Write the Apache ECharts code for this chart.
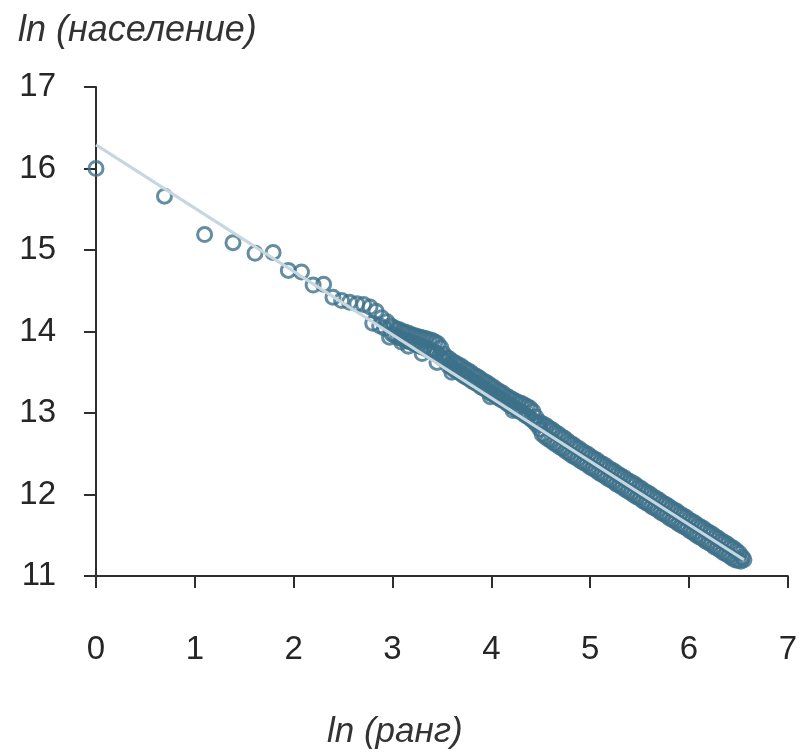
<!DOCTYPE html>
<html>
<head>
<meta charset="utf-8">
<script src="https://cdn.jsdelivr.net/npm/echarts@6/dist/echarts.min.js"></script>
<style>
html,body{margin:0;padding:0;background:#fff;}
#chart{width:800px;height:752px;}
</style>
</head>
<body>
<div id="chart"></div>
<script>
// ln(rank), ln(population) — largest cities
const topCities = [
  [0.000, 16.00], [0.693, 15.66], [1.099, 15.19], [1.386, 15.09], [1.609, 14.96],
  [1.792, 14.97], [1.946, 14.75], [2.079, 14.73], [2.197, 14.57], [2.303, 14.58],
  [2.398, 14.42], [2.485, 14.38], [2.565, 14.36], [2.639, 14.34], [2.708, 14.33],
  [2.773, 14.30], [2.833, 14.25], [2.890, 14.17], [2.944, 14.12], [2.920, 14.04],
  [2.800, 14.10], [2.870, 14.07]
];
// dense band, ln(rank) 2.98 – 3.55 (upper edge of the band)
const bandAUpper = [
  [2.98, 14.07], [3.01, 14.05], [3.04, 14.03], [3.07, 14.02], [3.10, 14.00],
  [3.13, 13.99], [3.16, 13.98], [3.19, 13.96], [3.22, 13.95], [3.25, 13.94],
  [3.28, 13.93], [3.31, 13.92], [3.34, 13.91], [3.37, 13.90], [3.40, 13.89],
  [3.43, 13.87], [3.46, 13.85], [3.49, 13.80], [3.52, 13.72]
];
// dense band, ln(rank) 2.98 – 3.55 (lower edge of the band)
const bandALower = [
  [2.995, 13.97], [3.025, 13.95], [3.055, 13.93], [3.085, 13.92], [3.115, 13.90],
  [3.145, 13.89], [3.175, 13.87], [3.205, 13.86], [3.235, 13.84], [3.265, 13.83],
  [3.295, 13.81], [3.325, 13.80], [3.355, 13.78], [3.385, 13.77], [3.415, 13.75],
  [3.445, 13.73], [3.475, 13.70], [3.505, 13.67], [3.535, 13.64],
  [2.97, 13.93], [3.09, 13.87], [3.16, 13.82], [3.30, 13.73], [3.45, 13.62]
];
// ln(rank) 3.55 – 4.5 (upper edge)
const bandBUpper = [
  [3.55, 13.68], [3.58, 13.66], [3.61, 13.63], [3.64, 13.61], [3.67, 13.59],
  [3.70, 13.57], [3.73, 13.54], [3.76, 13.52], [3.79, 13.50], [3.82, 13.47],
  [3.85, 13.45], [3.88, 13.43], [3.91, 13.40], [3.94, 13.38], [3.97, 13.36],
  [4.00, 13.33], [4.03, 13.31], [4.06, 13.28], [4.09, 13.26], [4.12, 13.24],
  [4.15, 13.21], [4.18, 13.19], [4.21, 13.17], [4.24, 13.15], [4.27, 13.13],
  [4.30, 13.12], [4.33, 13.10], [4.36, 13.08], [4.39, 13.06], [4.42, 13.02],
  [4.45, 12.95], [4.48, 12.88]
];
// ln(rank) 3.55 – 4.5 (lower edge)
const bandBLower = [
  [3.565, 13.58], [3.595, 13.56], [3.625, 13.53], [3.655, 13.51], [3.685, 13.49],
  [3.715, 13.46], [3.745, 13.44], [3.775, 13.42], [3.805, 13.39], [3.835, 13.37],
  [3.865, 13.35], [3.895, 13.32], [3.925, 13.30], [3.955, 13.28], [3.985, 13.25],
  [4.015, 13.23], [4.045, 13.21], [4.075, 13.18], [4.105, 13.16], [4.135, 13.14],
  [4.165, 13.11], [4.195, 13.09], [4.225, 13.07], [4.255, 13.04], [4.285, 13.02],
  [4.315, 13.00], [4.345, 12.97], [4.375, 12.95], [4.405, 12.92], [4.435, 12.89],
  [4.465, 12.85], [4.495, 12.80],
  [3.60, 13.50], [3.99, 13.20], [4.22, 13.03]
];
// ln(rank) 4.5 – 6.56 (upper edge)
const tailUpper = [
  [4.50, 12.88], [4.53, 12.86], [4.56, 12.84], [4.59, 12.81], [4.62, 12.79],
  [4.65, 12.76], [4.68, 12.74], [4.71, 12.71], [4.74, 12.69], [4.77, 12.66],
  [4.80, 12.63], [4.83, 12.61], [4.86, 12.58], [4.89, 12.56], [4.92, 12.53],
  [4.95, 12.51], [4.98, 12.49], [5.01, 12.46], [5.04, 12.44], [5.07, 12.42],
  [5.10, 12.39], [5.13, 12.37], [5.16, 12.35], [5.19, 12.32], [5.22, 12.30],
  [5.25, 12.28], [5.28, 12.25], [5.31, 12.23], [5.34, 12.21], [5.37, 12.18],
  [5.40, 12.16], [5.43, 12.14], [5.46, 12.12], [5.49, 12.09], [5.52, 12.07],
  [5.55, 12.04], [5.58, 12.02], [5.61, 12.00], [5.64, 11.97], [5.67, 11.95],
  [5.70, 11.93], [5.73, 11.90], [5.76, 11.88], [5.79, 11.86], [5.82, 11.83],
  [5.85, 11.81], [5.88, 11.79], [5.91, 11.76], [5.94, 11.74], [5.97, 11.72],
  [6.00, 11.69], [6.03, 11.67], [6.06, 11.65], [6.09, 11.62], [6.12, 11.60],
  [6.15, 11.58], [6.18, 11.55], [6.21, 11.53], [6.24, 11.51], [6.27, 11.48],
  [6.30, 11.46], [6.33, 11.43], [6.36, 11.41], [6.39, 11.39], [6.42, 11.36],
  [6.45, 11.34], [6.48, 11.31], [6.51, 11.28], [6.54, 11.23]
];
// ln(rank) 4.5 – 6.56 (lower edge)
const tailLower = [
  [4.515, 12.74], [4.545, 12.71], [4.575, 12.68], [4.605, 12.66], [4.635, 12.63],
  [4.665, 12.61], [4.695, 12.58], [4.725, 12.56], [4.755, 12.53], [4.785, 12.51],
  [4.815, 12.48], [4.845, 12.46], [4.875, 12.44], [4.905, 12.41], [4.935, 12.39],
  [4.965, 12.37], [4.995, 12.34], [5.025, 12.32], [5.055, 12.30], [5.085, 12.27],
  [5.115, 12.25], [5.145, 12.23], [5.175, 12.20], [5.205, 12.18], [5.235, 12.16],
  [5.265, 12.13], [5.295, 12.11], [5.325, 12.09], [5.355, 12.06], [5.385, 12.04],
  [5.415, 12.02], [5.445, 11.99], [5.475, 11.97], [5.505, 11.95], [5.535, 11.92],
  [5.565, 11.90], [5.595, 11.88], [5.625, 11.85], [5.655, 11.83], [5.685, 11.81],
  [5.715, 11.78], [5.745, 11.76], [5.775, 11.74], [5.805, 11.71], [5.835, 11.69],
  [5.865, 11.67], [5.895, 11.64], [5.925, 11.62], [5.955, 11.60], [5.985, 11.58],
  [6.015, 11.55], [6.045, 11.53], [6.075, 11.50], [6.105, 11.48], [6.135, 11.46],
  [6.165, 11.43], [6.195, 11.41], [6.225, 11.39], [6.255, 11.36], [6.285, 11.34],
  [6.315, 11.32], [6.345, 11.29], [6.375, 11.27], [6.405, 11.25], [6.435, 11.22],
  [6.465, 11.20], [6.495, 11.19], [6.525, 11.18], [6.556, 11.20]
];
// fitted regression line endpoints
const fitLine = [[0, 16.29], [6.556, 11.20]];

const xName = 'ln (ранг)';
const yName = 'ln (население)';

const allPoints = [].concat(topCities, bandAUpper, bandALower, bandBUpper, bandBLower, tailUpper, tailLower);

const chart = echarts.init(document.getElementById('chart'), null, {renderer: 'canvas'});
const font = 'Liberation Sans, Arial, Helvetica, sans-serif';
const axisColor = '#2e2e2e';
chart.setOption({
  animation: false,
  backgroundColor: '#ffffff',
  title: [
    {text: yName, left: 18, top: 13, padding: 0,
     textStyle: {fontSize: 36, fontStyle: 'italic', fontWeight: 'normal', color: '#333', fontFamily: font}},
    {text: xName, left: 327, top: 715, padding: 0,
     textStyle: {fontSize: 35, fontStyle: 'italic', fontWeight: 'normal', color: '#333', fontFamily: font}}
  ],
  grid: {left: 96, right: 9, top: 87, bottom: 176, containLabel: false},
  xAxis: {
    type: 'value', min: 0, max: 7, interval: 1,
    axisLine: {show: true, onZero: false, lineStyle: {color: axisColor, width: 2}},
    axisTick: {show: true, length: 12, lineStyle: {color: axisColor, width: 2}},
    axisLabel: {margin: 57, fontSize: 33, color: '#262626', fontFamily: font},
    splitLine: {show: false}
  },
  yAxis: {
    type: 'value', min: 11, max: 17, interval: 1,
    axisLine: {show: true, onZero: false, lineStyle: {color: axisColor, width: 2}},
    axisTick: {show: true, length: 12, lineStyle: {color: axisColor, width: 2}},
    axisLabel: {margin: 40, fontSize: 33, color: '#262626', fontFamily: font},
    splitLine: {show: false}
  },
  series: [
    {
      type: 'scatter',
      data: allPoints,
      symbol: 'circle',
      symbolSize: 14,
      itemStyle: {color: 'rgba(0,0,0,0)', borderColor: '#3d7189', borderWidth: 3},
      z: 2
    },
    {
      type: 'line',
      data: fitLine,
      showSymbol: false,
      symbol: 'none',
      lineStyle: {color: '#c6d7e0', width: 3},
      z: 3
    }
  ]
});
</script>
</body>
</html>
